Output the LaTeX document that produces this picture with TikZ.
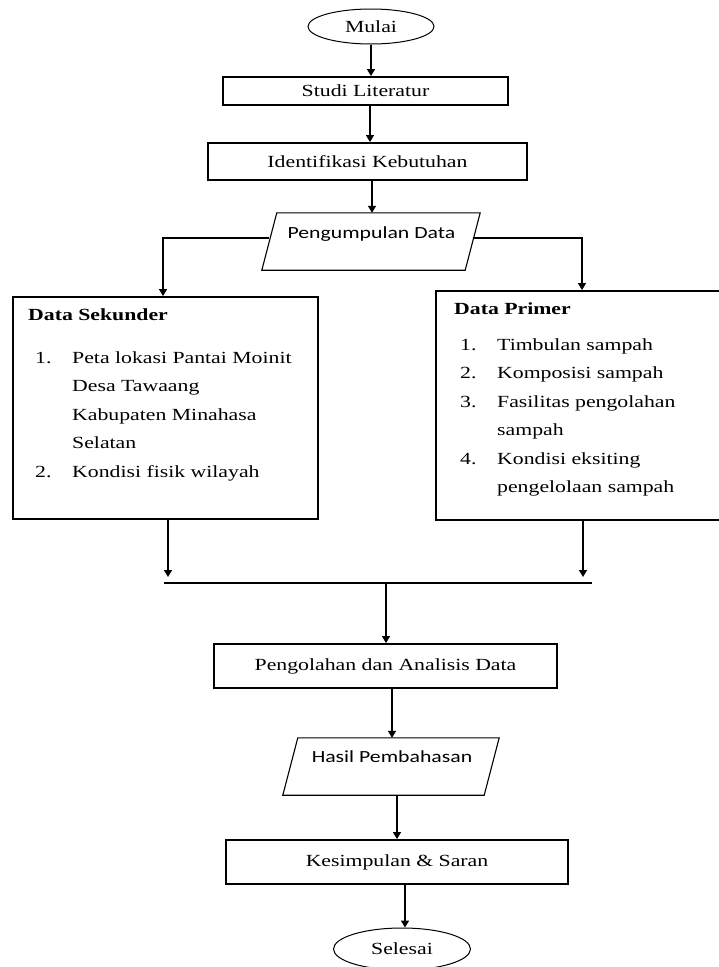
\documentclass[tikz,border=0pt]{standalone}
\usepackage{fontspec}
\setmainfont{Liberation Serif}[FakeStretch=1.28]
\newfontfamily\calib{Carlito}[FakeStretch=1.28]
\usetikzlibrary{shapes.geometric,arrows.meta}
\begin{document}
\begin{tikzpicture}[x=1pt,y=-1pt,
 box/.style={draw, line width=1.9pt, rectangle, inner sep=0pt, font=\fontsize{17}{20}\selectfont},
 term/.style={draw, ellipse, line width=1pt, inner sep=0pt, font=\fontsize{17}{20}\selectfont},
 iobase/.style={rectangle, inner sep=0pt},
 para/.style={line width=1.1pt, line join=miter},
 sanslbl/.style={font=\calib\fontsize{17}{20}\selectfont, inner sep=0pt},
 listtext/.style={anchor=north west, align=left, inner sep=0pt, font=\fontsize{17}{28.5}\selectfont},
 arr/.style={line width=1.5pt, -{Triangle[length=7pt,width=8pt]}},
 link/.style={line width=1.2pt}]
\fill[white] (0,0) rectangle (719,967);
\useasboundingbox (0,0) rectangle (719,967);

% nodes
\node[term, minimum width=126pt, minimum height=35pt] (mulai) at (371,26.5) {Mulai};
\node[box, minimum width=285pt, minimum height=28pt] (studi) at (365.5,91) {Studi Literatur};
\node[box, minimum width=319pt, minimum height=37pt] (ident) at (367.5,161.5) {Identifikasi Kebutuhan};

\node[iobase, minimum width=203pt, minimum height=57pt] (pd) at (371,241.5) {};
\draw[para] ([xshift=-7.5pt]pd.south west) -- ([xshift=-7.5pt]pd.south east)
  -- ([xshift=7.5pt]pd.north east) -- ([xshift=7.5pt]pd.north west) -- cycle;
\node[sanslbl] (pdt) at (371.5,234) {Pengumpulan Data};

\node[box, minimum width=305pt, minimum height=222pt] (sek) at (165.5,408) {};
\node[listtext] (sektext) at (28,308) {\textbf{Data Sekunder}\\[14.5pt]
\hspace*{7pt}\makebox[37pt][l]{1.}Peta lokasi Pantai Moinit\\
\hspace*{44pt}Desa Tawaang\\
\hspace*{44pt}Kabupaten Minahasa\\
\hspace*{44pt}Selatan\\
\hspace*{7pt}\makebox[37pt][l]{2.}Kondisi fisik wilayah};

\node[box, minimum width=289pt, minimum height=229pt] (prim) at (580.5,405.5) {};
\node[listtext] (primtext) at (454,302) {\textbf{Data Primer}\\[7.5pt]
\hspace*{6pt}\makebox[37pt][l]{1.}Timbulan sampah\\
\hspace*{6pt}\makebox[37pt][l]{2.}Komposisi sampah\\
\hspace*{6pt}\makebox[37pt][l]{3.}Fasilitas pengolahan\\
\hspace*{43pt}sampah\\
\hspace*{6pt}\makebox[37pt][l]{4.}Kondisi eksiting\\
\hspace*{43pt}pengelolaan sampah};

\coordinate (ml) at (164,583);
\coordinate (mr) at (592,583);

\node[box, minimum width=343pt, minimum height=44pt] (peng) at (385.5,666) {Pengolahan dan Analisis Data};

\node[iobase, minimum width=201pt, minimum height=57pt] (hasil) at (391,766.5) {};
\draw[para] ([xshift=-7.5pt]hasil.south west) -- ([xshift=-7.5pt]hasil.south east)
  -- ([xshift=7.5pt]hasil.north east) -- ([xshift=7.5pt]hasil.north west) -- cycle;
\node[sanslbl] (hasilt) at (392,757) {Hasil Pembahasan};

\node[box, minimum width=342pt, minimum height=44pt] (kes) at (397,862) {Kesimpulan \& Saran};
\node[term, minimum width=137pt, minimum height=42pt] (sel) at (402,949) {Selesai};

% connectors
\draw[arr] (mulai) -- (mulai |- studi.north);
\draw[arr] (370,0 |- studi.south) -- (370,0 |- ident.north);
\draw[arr] (372,0 |- ident.south) -- (372,0 |- pd.north);
\draw[arr] ([yshift=3.5pt]pd.west) -| (163,0 |- sek.north);
\draw[arr] ([yshift=3.5pt]pd.east) -| (582,0 |- prim.north);
\draw[arr, shorten >=6pt] (168,0 |- sek.south) -- (168,0 |- ml);
\draw[arr, shorten >=6pt] (583,0 |- prim.south) -- (583,0 |- ml);
\draw[link] (ml) -- (mr);
\draw[arr] (386,0 |- ml) -- (386,0 |- peng.north);
\draw[arr] (392,0 |- peng.south) -- (392,0 |- hasil.north);
\draw[arr] (397,0 |- hasil.south) -- (397,0 |- kes.north);
\draw[arr] (405,0 |- kes.south) -- (405,0 |- sel.north);
\end{tikzpicture}
\end{document}
